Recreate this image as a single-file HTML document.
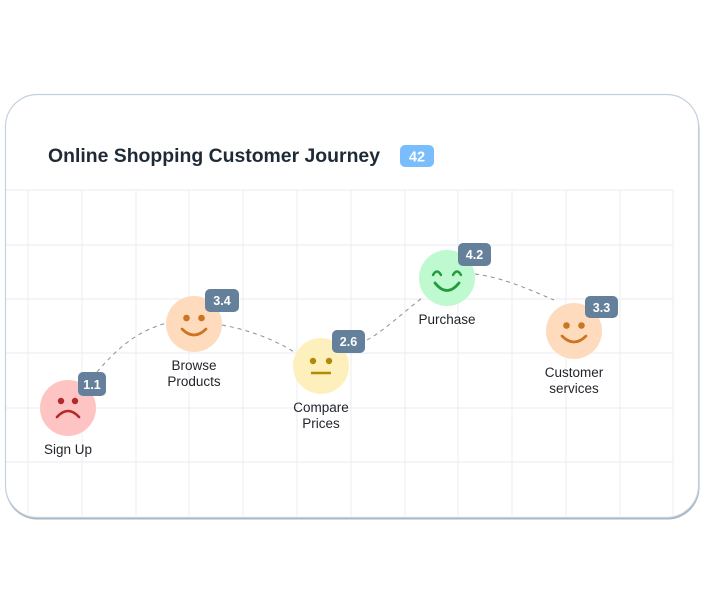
<!DOCTYPE html>
<html><head><meta charset="utf-8"><style>
html,body{margin:0;padding:0;background:#fff;}
svg{display:block;font-family:"Liberation Sans",sans-serif;}
</style></head><body>
<svg width="702" height="600" viewBox="0 0 702 600" xmlns="http://www.w3.org/2000/svg">
<rect x="5.5" y="96.5" width="694" height="423" rx="32" fill="#a9b6c3"/>
<rect x="5.5" y="94.5" width="693" height="423" rx="32" fill="#fff" stroke="#c3d0dd" stroke-width="1.2"/>
<g stroke="#efeff2" stroke-width="1.2">
<line x1="6" y1="190" x2="673" y2="190"/><line x1="6" y1="245" x2="673" y2="245"/><line x1="6" y1="299" x2="673" y2="299"/>
<line x1="6" y1="353" x2="673" y2="353"/><line x1="6" y1="408" x2="673" y2="408"/><line x1="6" y1="462" x2="673" y2="462"/>
<line x1="28" y1="190" x2="28" y2="516"/><line x1="82" y1="190" x2="82" y2="516"/><line x1="136" y1="190" x2="136" y2="516"/>
<line x1="189" y1="190" x2="189" y2="516"/><line x1="243" y1="190" x2="243" y2="516"/><line x1="297" y1="190" x2="297" y2="516"/>
<line x1="351" y1="190" x2="351" y2="516"/><line x1="405" y1="190" x2="405" y2="516"/><line x1="458" y1="190" x2="458" y2="516"/>
<line x1="512" y1="190" x2="512" y2="516"/><line x1="566" y1="190" x2="566" y2="516"/><line x1="620" y1="190" x2="620" y2="516"/>
<line x1="673" y1="190" x2="673" y2="516"/>
</g>
<text x="48" y="162" font-size="19" font-weight="bold" fill="#1f2a37" textLength="332" lengthAdjust="spacingAndGlyphs">Online Shopping Customer Journey</text>
<rect x="400" y="145" width="34" height="22" rx="5" fill="#79bdfd"/>
<text x="417" y="161.5" font-size="14.5" font-weight="bold" fill="#fff" text-anchor="middle">42</text>
<g fill="none" stroke="#8a8f96" stroke-width="1" stroke-dasharray="4,4">
<path d="M97 372 C120 345 140 330 167 323"/>
<path d="M222 325 C250 330 275 340 294 352"/>
<path d="M367 340 C385 330 400 315 422 298"/>
<path d="M475 274 C505 278 530 290 554 300"/>
</g>
<circle cx="68" cy="408" r="28" fill="#fec4c4"/>
<circle cx="61" cy="401" r="3.2" fill="#b12a2a"/><circle cx="75" cy="401" r="3.2" fill="#b12a2a"/>
<path d="M57 417 Q68 405 79 417" fill="none" stroke="#b12a2a" stroke-width="2.6" stroke-linecap="round"/>
<circle cx="194" cy="324" r="28" fill="#fedbbd"/>
<circle cx="186.5" cy="318" r="3.3" fill="#cc7422"/><circle cx="201.5" cy="318" r="3.3" fill="#cc7422"/>
<path d="M182 329 Q194 341 206 329" fill="none" stroke="#cc7422" stroke-width="2.7" stroke-linecap="round"/>
<circle cx="321" cy="366" r="28" fill="#fef0bc"/>
<circle cx="313" cy="361" r="3.2" fill="#b08a06"/><circle cx="329" cy="361" r="3.2" fill="#b08a06"/>
<line x1="311" y1="373" x2="331" y2="373" stroke="#b08a06" stroke-width="2.4"/>
<circle cx="447" cy="278" r="28" fill="#bff9cf"/>
<path d="M433 275 Q437 268 441 275 M453 275 Q457 268 461 275" fill="none" stroke="#239a3d" stroke-width="2.4" stroke-linecap="round"/>
<path d="M435 283 Q447 298 459 283" fill="none" stroke="#239a3d" stroke-width="2.8" stroke-linecap="round"/>
<circle cx="574" cy="331" r="28" fill="#fedbbd"/>
<circle cx="566.5" cy="325.5" r="3.3" fill="#cc7422"/><circle cx="581.5" cy="325.5" r="3.3" fill="#cc7422"/>
<path d="M562 336 Q574 348 586 336" fill="none" stroke="#cc7422" stroke-width="2.7" stroke-linecap="round"/>
<g fill="#64809a">
<rect x="78" y="372" width="28" height="24" rx="5"/>
<rect x="205" y="289" width="34" height="23" rx="5"/>
<rect x="332" y="330" width="33" height="23" rx="5"/>
<rect x="458" y="243" width="33" height="23" rx="5"/>
<rect x="585" y="296" width="33" height="22" rx="5"/>
</g>
<g font-size="12.5" font-weight="bold" fill="#fff" text-anchor="middle">
<text x="92" y="389">1.1</text><text x="222" y="305">3.4</text><text x="348.5" y="346">2.6</text>
<text x="474.5" y="259">4.2</text><text x="601.5" y="312">3.3</text>
</g>
<g font-size="13.5" fill="#1f2329" text-anchor="middle">
<text x="68" y="454">Sign Up</text>
<text x="194" y="370">Browse</text><text x="194" y="386">Products</text>
<text x="321" y="412">Compare</text><text x="321" y="428">Prices</text>
<text x="447" y="324">Purchase</text>
<text x="574" y="377">Customer</text><text x="574" y="393">services</text>
</g>
</svg>
</body></html>
